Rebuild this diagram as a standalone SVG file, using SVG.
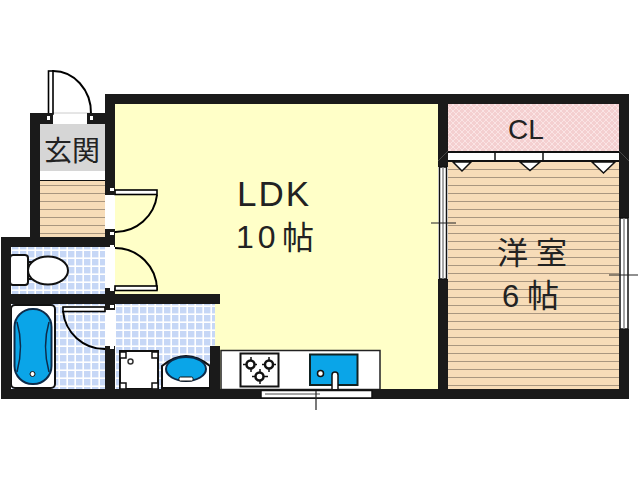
<svg xmlns="http://www.w3.org/2000/svg" width="640" height="480" viewBox="0 0 640 480">
<style>
.w{fill:#1a1a1a}
.ln{fill:none;stroke:#000;stroke-width:2}
.leaf{fill:#fff;stroke:#000;stroke-width:1.6}
.t{font-family:"Liberation Sans","Noto Sans CJK JP",sans-serif;fill:#222}
.jp{font-family:"Noto Sans CJK JP",sans-serif;fill:#222}
.fx{fill:#fff;stroke:#111;stroke-width:2}
.blue{fill:#0aa5e8;stroke:#0d2b4a;stroke-width:2}
</style>
<defs>
<pattern id="wood" width="10" height="8" patternUnits="userSpaceOnUse" y="1"><rect width="10" height="8" fill="#f7dcb8"/><rect width="10" height="1" y="0" fill="#a9967f"/></pattern>
<pattern id="tile" width="8" height="8" patternUnits="userSpaceOnUse" x="3" y="2"><rect width="8" height="8" fill="#fff"/><rect x="1" y="1" width="6.4" height="6.4" fill="#c6d7f6"/></pattern>
<pattern id="pink" width="6" height="6" patternUnits="userSpaceOnUse"><rect width="6" height="6" fill="#f4cfd0"/><path d="M0 0L6 6M6 0L0 6" stroke="#fbe9ea" stroke-width="0.8"/></pattern>
</defs>
<rect width="640" height="480" fill="#fff"/>

<g id="ldk"><rect x="115" y="104" width="323" height="285" fill="#ffffc8"/>
<text class="t" x="237" y="206" font-size="35" letter-spacing="2">LDK</text>
<text class="t" x="236" y="248" font-size="32" letter-spacing="4">10</text>
<text class="jp" x="282" y="249" font-size="32">帖</text></g>

<g id="closet"><rect x="448" y="104" width="171" height="47" fill="url(#pink)"/>
<text class="t" x="508" y="139" font-size="28">CL</text></g>

<g id="western-room"><rect x="448" y="161" width="171" height="228" fill="url(#wood)"/>
<text class="jp" x="497" y="264" font-size="31" letter-spacing="8">洋室</text>
<text class="t" x="502" y="307" font-size="31">6</text>
<text class="jp" x="527" y="307" font-size="32">帖</text></g>

<g id="entrance"><rect x="40" y="124" width="65" height="47" fill="#d6d6d6"/>
<text class="jp" x="44" y="161" font-size="28">玄関</text>
<rect x="40" y="172" width="65" height="8" fill="#fff"/>
<rect x="40" y="180" width="65" height="1.5" fill="#111"/>
<rect x="40" y="181" width="65" height="56" fill="url(#wood)"/></g>

<g id="toilet"><rect x="11" y="247" width="94" height="47" fill="url(#tile)"/>
<rect x="10" y="255" width="18" height="30" rx="3" class="fx"/>
<rect x="28" y="262" width="5" height="17" class="fx"/>
<ellipse cx="48" cy="270.500" rx="20" ry="14" class="fx"/></g>

<g id="bath"><rect x="11" y="304" width="94" height="85" fill="url(#tile)"/>
<rect x="11" y="305" width="44" height="83" rx="4" class="fx"/>
<rect x="14.500" y="309" width="37" height="75" rx="18" class="blue"/>
<path d="M17 322Q24 346 17 372M49 322Q42 346 49 372" fill="none" stroke="#0d2b4a" stroke-width="1.500"/>
<circle cx="32.500" cy="374" r="2.500" fill="#fff" stroke="#111"/></g>

<g id="washroom"><rect x="115" y="304" width="100" height="85" fill="url(#tile)"/>
<rect x="120" y="351" width="38" height="38" class="fx"/>
<path d="M120 352h6v6h-6zM152 352h6v6h-6zM120 383h6v6h-6zM152 383h6v6h-6z" fill="#fff" stroke="#111" stroke-width="1.500"/>
<circle cx="130.500" cy="361.500" r="2.500" fill="#fff" stroke="#333" stroke-width="1.500"/>
<path d="M162 388V366Q186 346 210 366V388Z" class="fx"/>
<ellipse cx="186" cy="369" rx="20" ry="12" class="blue"/>
<rect x="179" y="377" width="14" height="4" rx="1.500" fill="#fff" stroke="#111"/></g>

<g id="kitchen"><rect x="221" y="350.500" width="159" height="39" fill="#fff" stroke="#222" stroke-width="1.500"/>
<rect x="240.500" y="353.500" width="38" height="33" fill="#fff" stroke="#111" stroke-width="2"/>
<g fill="#fff" stroke="#111" stroke-width="2.500"><path d="M243 364.500h14M251 357v15M262 364.500h14M269 357v15M252 376.500h16M260 369v15" fill="none" stroke-width="1.500"/><circle cx="250.500" cy="364.500" r="4"/><circle cx="269" cy="364.500" r="4"/><circle cx="259.500" cy="376.500" r="4"/></g>
<rect x="310" y="354.500" width="47.500" height="30.500" fill="#0aa5e8" stroke="#122" stroke-width="2"/>
<circle cx="320.500" cy="373.500" r="3" fill="#fff" stroke="#111" stroke-width="1.500"/>
<path d="M332 389V375a2.500 2.500 0 0 1 6 0V389" fill="#fff" stroke="#111" stroke-width="1.500"/></g>

<g id="walls">
<rect class="w" x="105" y="94" width="524" height="10"/>
<rect class="w" x="105" y="94" width="10" height="94"/>
<rect class="w" x="438" y="104" width="10" height="63"/>
<rect class="w" x="438" y="279" width="10" height="120"/>
<rect class="w" x="619" y="94" width="10" height="124"/>
<rect class="w" x="619" y="329" width="10" height="70"/>
<rect class="w" x="30" y="113" width="10" height="124"/>
<rect class="w" x="30" y="113" width="85" height="11"/>
<rect class="w" x="1" y="237" width="114" height="10"/>
<rect class="w" x="1" y="237" width="10" height="162"/>
<rect class="w" x="11" y="294" width="209" height="10"/>
<rect class="w" x="1" y="389" width="628" height="10"/>
<rect class="w" x="105" y="349" width="10" height="40"/>
<rect class="w" x="210" y="346" width="10" height="43"/>
<rect x="448" y="151" width="171" height="10" fill="#fff"/>
<path d="M448 152H619M448 161H619" stroke="#111" stroke-width="2"/>
<path d="M495 152v9M543 152v9" stroke="#111" stroke-width="1.500"/>
<path d="M448 151l-10 10M619 151l10 10" stroke="#666" stroke-width="0.600"/>
<path d="M453 162H471L462 171ZM520 162H540L530 170.500ZM592 162H615L603.500 173Z" fill="#fff" stroke="#111" stroke-width="1.500"/>
<rect x="50" y="113" width="40" height="11" fill="#fff"/>
<path d="M50 113H90" stroke="#ccc"/>
<rect x="105" y="188" width="10" height="49" fill="#fff"/>
<rect x="105" y="247" width="10" height="47" fill="#fff"/>
<rect x="105" y="304" width="10" height="45" fill="#fff"/>
</g>

<g id="doors">
<path class="ln" d="M91 114A38 42 0 0 0 52 71"/>
<rect class="leaf" x="48.500" y="71" width="4.500" height="43"/>
<path class="w" d="M44 113h9v11h-9zM87 113h9v11h-9z"/>
<path d="M47 116h3v4h-3zM90 116h3v4h-3z" fill="#fff"/>
<path class="ln" d="M157 195A42 42 0 0 1 115 232"/>
<rect class="leaf" x="115" y="190" width="42" height="4.500"/>
<path class="ln" d="M115 248A42 42 0 0 1 157 290"/>
<rect class="leaf" x="115" y="286" width="42" height="4.500"/>
<path class="ln" d="M63 311A42 42 0 0 0 105 349"/>
<rect class="leaf" x="63" y="307" width="42" height="4.500"/>
<path d="M105 186h10v9h-10zM105 229h10v8h-10zM105 247h10v-10h-10zM105 288h10v6h-10zM105 304h10v6h-10zM105 346h10v5h-10z" class="w"/>
<path d="M110 188h4v3h-4zM110 232h4v3h-4zM110 245h4v3h-4zM110 288h4v3h-4zM110 305h4v3h-4zM110 346h4v3h-4z" fill="#fff"/>
</g>

<g id="windows" fill="#fff" stroke="#111" stroke-width="1.500">
<rect x="439.500" y="167" width="7" height="112"/><path d="M443 167V279" stroke="#888"/>
<rect x="620" y="218" width="8" height="111"/><path d="M624 218V329" stroke="#888"/>
<rect x="261" y="390.500" width="111" height="7.500"/><path d="M265 394H320" stroke="#888"/>
<path d="M431 223H456M609 275H638M316 391V410" stroke="#222" stroke-width="1.200"/>
</g>
</svg>
